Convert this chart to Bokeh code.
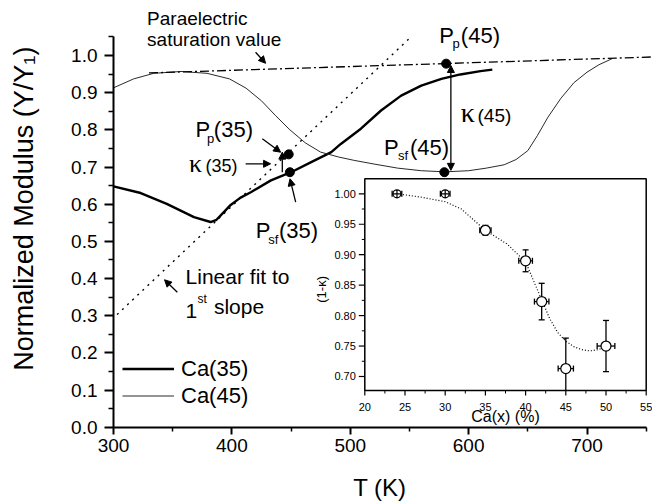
import math
from bokeh.plotting import figure
from bokeh.models import (Range1d, FixedTicker, PrintfTickFormatter, Label, LabelSet,
                          Arrow, NormalHead, Legend, LegendItem, ColumnDataSource)
from bokeh.core.properties import value
from bokeh.embed import file_html
from bokeh.resources import INLINE

# ---------------- data (main panel) ----------------
ca35_T = [300, 323, 345, 368, 382, 387, 393, 399, 407, 416, 433, 450, 467, 484, 492,
          509, 526, 543, 560, 577, 593, 610, 620]
ca35_Y = [0.648, 0.630, 0.601, 0.565, 0.552, 0.558, 0.578, 0.598, 0.617, 0.632, 0.664,
          0.686, 0.713, 0.740, 0.762, 0.803, 0.852, 0.892, 0.919, 0.937, 0.949, 0.958, 0.962]
ca45_T = [300, 317, 334, 357, 379, 398, 412, 425, 437, 449, 462, 475, 490, 503, 520, 540,
          560, 580, 600, 615, 630, 640, 650, 658, 667, 678, 689, 700, 710, 721]
ca45_Y = [0.913, 0.937, 0.952, 0.957, 0.952, 0.937, 0.912, 0.878, 0.838, 0.800, 0.765,
          0.740, 0.727, 0.718, 0.708, 0.697, 0.690, 0.687, 0.690, 0.697, 0.706, 0.720,
          0.744, 0.784, 0.834, 0.885, 0.927, 0.955, 0.975, 0.991]
para_T = [330, 755]
para_Y = [0.953, 0.996]
fit_T = [303, 552]
fit_Y = [0.303, 1.052]
pts_T = [448, 449, 581, 579.5]
pts_Y = [0.734, 0.686, 0.978, 0.686]

main_xlim = (300, 750)
main_ylim = (0.0, 1.05)
main_xticks = [300, 400, 500, 600, 700]
main_xminor = [350, 450, 550, 650, 750]
main_yticks = [0.0, 0.1, 0.2, 0.3, 0.4, 0.5, 0.6, 0.7, 0.8, 0.9, 1.0]
main_yminor = [0.05, 0.15, 0.25, 0.35, 0.45, 0.55, 0.65, 0.75, 0.85, 0.95, 1.05]

# ---------------- data (inset) ----------------
inset_ca = [24, 30, 35, 40, 42, 45, 50]
inset_k = [1.000, 1.000, 0.940, 0.890, 0.823, 0.713, 0.750]
inset_xerr = [0.6, 0.6, 0.7, 0.85, 0.9, 0.95, 1.1]
inset_yerr = [0.002, 0.002, 0.008, 0.018, 0.030, 0.050, 0.042]
inset_fit_x = [24, 27, 30, 32, 35, 37.7, 40, 42, 43, 44, 45, 46, 47, 48, 49, 49.6]
inset_fit_y = [1.000, 0.9945, 0.987, 0.975, 0.940, 0.9175, 0.888, 0.826, 0.795, 0.772,
               0.758, 0.749, 0.744, 0.742, 0.744, 0.747]
inset_xticks = [20, 25, 30, 35, 40, 45, 50, 55]
inset_xminor = [22.5, 27.5, 32.5, 37.5, 42.5, 47.5, 52.5]
inset_yticks = [0.70, 0.75, 0.80, 0.85, 0.90, 0.95, 1.00]
inset_yminor = [0.725, 0.775, 0.825, 0.875, 0.925, 0.975]
inset_xlim = (20, 55)
inset_ylim = (0.677, 1.0246)

FONT = "Liberation Sans"
W, H = 652, 503
# placement of the main axes box on the canvas (pixels)
AX_L, AX_R, AX_T, AX_B = 113.0, 645.7, 36.4, 426.7
DESC = 0.21  # descent fraction, to anchor texts on their alphabetic baseline

kx = (main_xlim[1] - main_xlim[0]) / (AX_R - AX_L)
ky = (main_ylim[1] - main_ylim[0]) / (AX_B - AX_T)
p = figure(width=W, height=H, output_backend="svg", toolbar_location=None,
           x_range=Range1d(main_xlim[0] - AX_L * kx, main_xlim[1] + (W - AX_R) * kx),
           y_range=Range1d(main_ylim[0] - (H - AX_B) * ky, main_ylim[1] + AX_T * ky),
           min_border=0, min_border_left=0, min_border_right=0,
           min_border_top=0, min_border_bottom=0)
p.outline_line_color = None
p.grid.visible = False
p.background_fill_color = "white"
p.border_fill_color = "white"

# axes (placed at the data origin of the box)
p.xaxis.fixed_location = main_ylim[0]
p.yaxis.fixed_location = main_xlim[0]
p.xaxis.bounds = main_xlim
p.yaxis.bounds = main_ylim
for ax in (p.xaxis[0], p.yaxis[0]):
    ax.axis_line_width = 2
    ax.axis_line_color = "black"
    ax.major_tick_line_width = 2
    ax.minor_tick_line_width = 1.5
    ax.major_tick_line_color = "black"
    ax.minor_tick_line_color = "black"
    ax.major_tick_in = 0
    ax.minor_tick_in = 0
    ax.major_label_text_font = FONT
    ax.major_label_text_font_size = "19px"
    ax.major_label_text_color = "black"
p.xaxis.ticker = FixedTicker(ticks=main_xticks, minor_ticks=main_xminor)
p.yaxis.ticker = FixedTicker(ticks=main_yticks, minor_ticks=main_yminor)
p.yaxis.formatter = PrintfTickFormatter(format="%.1f")
p.xaxis.major_tick_out = 7
p.xaxis.minor_tick_out = 4
p.yaxis.major_tick_out = 9
p.yaxis.minor_tick_out = 5
p.xaxis.major_label_standoff = 5
p.yaxis.major_label_standoff = 7

# main curves
r35 = p.line(ca35_T, ca35_Y, line_color="black", line_width=2.4)
r45 = p.line(ca45_T, ca45_Y, line_color="#2a2a2a", line_width=1.0)
p.line(para_T, para_Y, line_color="black", line_width=1.3, line_dash="9 3 2 3")
p.line(fit_T, fit_Y, line_color="black", line_width=1.4, line_dash="2 5")
p.scatter(pts_T, pts_Y, size=9, fill_color="black", line_color="black")

legend = Legend(items=[LegendItem(label="Ca(35)", renderers=[r35]),
                       LegendItem(label="Ca(45)", renderers=[r45])],
                location=(122, 94), padding=0, margin=0, spacing=0,
                glyph_width=52, glyph_height=27, label_height=27, label_standoff=7,
                label_text_font=FONT, label_text_font_size="22px",
                label_text_color="black",
                background_fill_alpha=0, border_line_color=None)
p.add_layout(legend)


# ---------------- text annotations ----------------
def lab(x, y, text, size, font=FONT, dx=0.0, dy=0.0, **kw):
    base = kw.pop("text_baseline", "alphabetic")
    if base == "alphabetic":
        dy -= DESC * size
        base = "bottom"
    kw.setdefault("text_align", "left")
    p.add_layout(Label(x=x, y=y, x_offset=dx, y_offset=dy, text=text, text_font=font,
                       text_font_size=f"{size}px", text_color="black",
                       text_baseline=base, **kw))


def rich(x, y, parts):
    for text, size, dx, dy in parts:
        lab(x, y, text, size, dx=dx, dy=dy)


B, S = 22, 13
lab(328.4, 1.0807, "Paraelectric", 19)
lab(328.4, 1.0242, "saturation value", 19)
rich(369.3, 0.7785, [("P", B, 0, 0), ("p", S, 11.5, -5), ("(35)", B, 18.3, 0)])
rich(420.1, 0.5069, [("P", B, 0, 0), ("sf", S, 12.5, -5), ("(35)", B, 23.3, 0)])
rich(575.1, 1.0331, [("P", B, 0, 0), ("p", S, 13.4, -5), ("(45)", B, 21.7, 0)])
rich(528.5, 0.731, [("P", B, 0, 0), ("sf", S, 14, -5), ("(45)", B, 26, 0)])
lab(363.7, 0.686, "κ", 26, font="Liberation Serif")
lab(363.7, 0.686, "(35)", 18, dx=16.7)
lab(593.4, 0.8206, "κ", 28, font="Liberation Serif")
lab(593.4, 0.8206, "(45)", 19, dx=16.7)
lab(360.9, 0.3858, "Linear fit to", 21)
lab(360.9, 0.305, "1", 21)
lab(360.9, 0.305, "st", 12, dx=12, dy=10)
lab(360.9, 0.305, "slope", 21, dx=28.3)

# axis titles
lab(main_xlim[0], 0.588, "Normalized Modulus (Y/Y\u2081)", 27, dx=-90, angle=90,
    angle_units="deg", text_align="center", text_baseline="middle")
lab((main_xlim[0] + main_xlim[1]) / 2, main_ylim[0], "T (K)", 24, dy=-68.3,
    text_align="center")


# arrows
def arrow(x0, y0, x1, y1, both=False):
    head = dict(size=7, fill_color="black", line_color="black", line_width=1)
    p.add_layout(Arrow(x_start=x0, y_start=y0, x_end=x1, y_end=y1, line_width=1.3,
                       end=NormalHead(**head),
                       start=NormalHead(**head) if both else None))


arrow(420.0, 1.0088, 428.5, 0.9790)
arrow(353.9, 0.3632, 343.1, 0.3966)
arrow(425.7, 0.7759, 441.2, 0.7398)
arrow(411.6, 0.7086, 432.7, 0.7086)
arrow(453.9, 0.6053, 449.1, 0.6683)
arrow(442.6, 0.686, 442.6, 0.740)
arrow(585.0, 0.691, 585.0, 0.973, both=True)

# ---------------- inset ----------------
IN_L, IN_R, IN_T, IN_B = 364.3, 645.7, 178.3, 390.0   # inset box on canvas (pixels)
ix0, ix1 = inset_xlim
iy0, iy1 = inset_ylim
sx = (ix1 - ix0) / (IN_R - IN_L)
sy = (iy1 - iy0) / (IN_B - IN_T)
p.extra_x_ranges = {"ix": Range1d(ix0 - IN_L * sx, ix1 + (W - IN_R) * sx)}
p.extra_y_ranges = {"iy": Range1d(iy0 - (H - IN_B) * sy, iy1 + IN_T * sy)}
IN = dict(x_range_name="ix", y_range_name="iy")

p.quad(left=[ix0], right=[ix1], bottom=[iy0], top=[iy1], fill_color="white",
       line_color="black", line_width=1.5, **IN)
# ticks
p.ray(x=[ix0] * len(inset_yticks), y=inset_yticks, length=6, length_units="screen",
      angle=math.pi, line_color="black", line_width=1.2, **IN)
p.ray(x=[ix0] * len(inset_yminor), y=inset_yminor, length=3, length_units="screen",
      angle=math.pi, line_color="black", line_width=1.0, **IN)
p.ray(x=inset_xticks, y=[iy0] * len(inset_xticks), length=5, length_units="screen",
      angle=-math.pi / 2, line_color="black", line_width=1.2, **IN)
p.ray(x=inset_xminor, y=[iy0] * len(inset_xminor), length=3, length_units="screen",
      angle=-math.pi / 2, line_color="black", line_width=1.0, **IN)
# tick labels
p.add_layout(LabelSet(x="x", y="y", text="t", source=ColumnDataSource(dict(
    x=inset_xticks, y=[iy0] * len(inset_xticks), t=[str(v) for v in inset_xticks])),
    y_offset=-18 - DESC * 11, text_align="center", text_baseline="bottom",
    text_color="black", text_font=value(FONT), text_font_size=value("11px"), **IN))
p.add_layout(LabelSet(x="x", y="y", text="t", source=ColumnDataSource(dict(
    x=[ix0] * len(inset_yticks), y=inset_yticks, t=["%.2f" % v for v in inset_yticks])),
    x_offset=-9, text_align="right", text_baseline="middle", text_color="black",
    text_font=value(FONT), text_font_size=value("11px"), **IN))
p.add_layout(Label(x=(ix0 + ix1) / 2, y=iy0, y_offset=-31.5 - DESC * 16, text="Ca(x) (%)",
                   text_font=FONT, text_font_size="16px", text_align="center",
                   text_baseline="bottom", text_color="black", **IN))
p.add_layout(Label(x=ix0, y=0.843, x_offset=-43, text="(1-κ)", angle=90,
                   angle_units="deg", text_font=FONT, text_font_size="13px",
                   text_align="center", text_baseline="middle", text_color="black", **IN))

# fit curve
p.line(inset_fit_x, inset_fit_y, line_color="black", line_width=1.2, line_dash="1 2", **IN)

# error bars
ylo = [max(y - e, iy0) for y, e in zip(inset_k, inset_yerr)]
yhi = [y + e for y, e in zip(inset_k, inset_yerr)]
p.segment(x0=inset_ca, x1=inset_ca, y0=ylo, y1=yhi, line_color="black", line_width=1.3, **IN)
p.segment(x0=[x - e for x, e in zip(inset_ca, inset_xerr)],
          x1=[x + e for x, e in zip(inset_ca, inset_xerr)],
          y0=inset_k, y1=inset_k, line_color="black", line_width=1.3, **IN)
cap_x = inset_ca + [x for x, y, e in zip(inset_ca, inset_k, inset_yerr) if y - e >= iy0]
cap_y = yhi + [y - e for y, e in zip(inset_k, inset_yerr) if y - e >= iy0]
p.scatter(cap_x, cap_y, marker="dash", size=6, line_color="black", line_width=1.3, **IN)
p.scatter([x - e for x, e in zip(inset_ca, inset_xerr)] + [x + e for x, e in zip(inset_ca, inset_xerr)],
          inset_k + inset_k, marker="dash", angle=math.pi / 2, size=6,
          line_color="black", line_width=1.3, **IN)
# markers
markers = ["circle_cross", "circle_cross"] + ["circle"] * (len(inset_ca) - 2)
sizes = [8, 8] + [10] * (len(inset_ca) - 2)
p.scatter(x="x", y="y", marker="m", size="s", source=ColumnDataSource(dict(
    x=inset_ca, y=inset_k, m=markers, s=sizes)),
    fill_color="white", line_color="black", line_width=1.2, **IN)

open("out.html", "w").write(file_html(p, INLINE))
